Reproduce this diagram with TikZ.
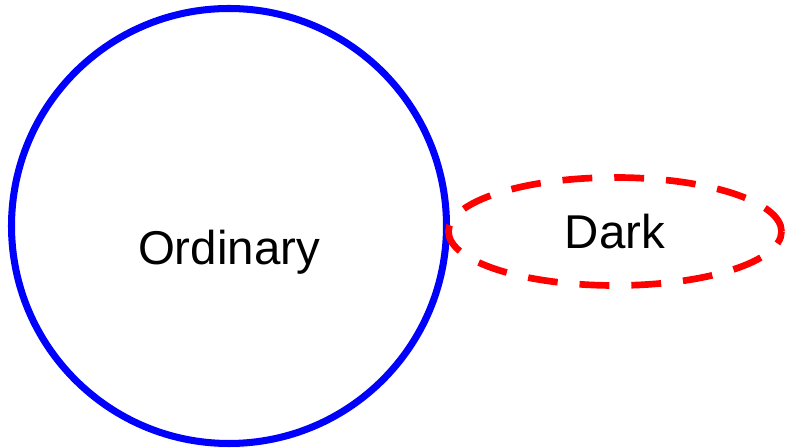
\documentclass[tikz,border=0pt]{standalone}
\usepackage{fontspec}
\setmainfont{Liberation Sans}
\usetikzlibrary{shapes.geometric}

\begin{document}
\begin{tikzpicture}[
    matter/.style={
% The shape:
circle,
% The size:
      minimum size=8.7cm,
      inner sep=0pt,
% The border:
      line width=4pt,
      draw=blue
    },
    darkmatter/.style={
% The shape:
ellipse,
% The size:
      minimum width=6.66cm,
      minimum height=2.16cm,
      inner sep=0pt,
% The border:
      line width=3.8pt,
      draw=red,
      dash pattern=on 17pt off 12.5pt, % and the font
font=\fontsize{27}{31}\selectfont
    },
    word/.style={inner sep=0pt, font=\fontsize{27}{31}\selectfont}]
  \useasboundingbox (0,0) rectangle (15.76,8.96);
  \node [matter] (ordinary) at (4.58,4.44) {};
  \node [word] (ordinarytext) at ([yshift=-0.52cm]ordinary.center) {Ordinary};
  \node [darkmatter] (dark) at (12.30,4.33) {Dark};
\end{tikzpicture}
\end{document}
